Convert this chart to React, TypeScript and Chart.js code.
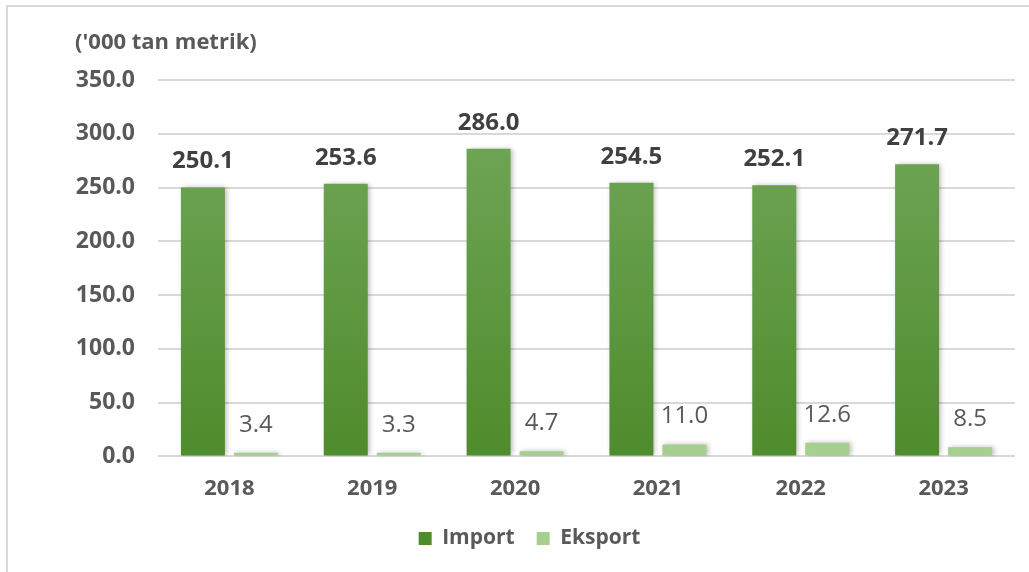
import React, { useEffect, useRef } from "react";
import { Chart, registerables } from "chart.js";

Chart.register(...registerables);

const years = ["2018", "2019", "2020", "2021", "2022", "2023"];
const importValues = [250.1, 253.6, 286.0, 254.5, 252.1, 271.7];
const eksportValues = [3.4, 3.3, 4.7, 11.0, 12.6, 8.5];
const unitLabel = "('000 tan metrik)";
const seriesNames = ["Import", "Eksport"];

const FONT = "'Open Sans', 'Noto Sans', sans-serif";

const shadowPlugin = {
  id: "barShadow",
  beforeDatasetsDraw(chart: any) {
    const ctx = chart.ctx;
    ctx.save();
    ctx.shadowColor = "rgba(0,0,0,0.28)";
    ctx.shadowBlur = 5;
    ctx.shadowOffsetX = 2;
    ctx.shadowOffsetY = 0;
  },
  afterDatasetsDraw(chart: any) {
    chart.ctx.restore();
  },
};

const labelPlugin = {
  id: "valueLabels",
  afterDatasetsDraw(chart: any) {
    const ctx = chart.ctx;
    ctx.save();
    ctx.textAlign = "center";
    ctx.textBaseline = "middle";
    chart.data.datasets.forEach((ds: any, di: number) => {
      const meta = chart.getDatasetMeta(di);
      meta.data.forEach((bar: any, i: number) => {
        const v = ds.data[i] as number;
        if (di === 0) {
          ctx.font = `bold 24px ${FONT}`;
          ctx.fillStyle = "#404040";
          ctx.fillText(v.toFixed(1), bar.x, bar.y - 26);
        } else {
          ctx.font = `24px ${FONT}`;
          ctx.fillStyle = "#595959";
          ctx.fillText(v.toFixed(1), bar.x, bar.y - 28);
        }
      });
    });
    ctx.textAlign = "left";
    ctx.font = `bold 22px ${FONT}`;
    ctx.fillStyle = "#595959";
    ctx.fillText(unitLabel, 75, 43);
    ctx.restore();
  },
};

export default function App() {
  const ref = useRef<HTMLCanvasElement | null>(null);

  useEffect(() => {
    if (!ref.current) return;
    const chart = new Chart(ref.current, {
      type: "bar",
      data: {
        labels: years,
        datasets: [
          {
            label: seriesNames[0],
            data: importValues,
            backgroundColor: (c: any) => {
              const area = c.chart.chartArea;
              if (!area) return "#5a9636";
              const g = c.chart.ctx.createLinearGradient(0, area.top, 0, area.bottom);
              g.addColorStop(0, "#74a95d");
              g.addColorStop(1, "#4f8c2c");
              return g;
            },
            categoryPercentage: 0.742,
            barPercentage: 0.83,
          },
          {
            label: seriesNames[1],
            data: eksportValues,
            backgroundColor: "#a5cf8e",
            categoryPercentage: 0.742,
            barPercentage: 0.83,
          },
        ],
      },
      options: {
        responsive: false,
        animation: false,
        devicePixelRatio: 1,
        layout: { padding: { top: 80, right: 14, left: 44, bottom: 13 } },
        scales: {
          x: {
            afterFit(scale: any) {
              scale.height = 49.6;
            },
            grid: { display: false, drawTicks: false },
            border: { display: false },
            ticks: {
              color: "#595959",
              font: { family: FONT, size: 22, weight: "bold" },
              padding: 19,
            },
          },
          y: {
            min: 0,
            max: 350,
            afterFit(scale: any) {
              scale.width = 114;
            },
            grid: { color: "#d9d9d9", lineWidth: 2, drawTicks: false },
            border: { display: false },
            ticks: {
              stepSize: 50,
              color: "#595959",
              padding: 23,
              font: { family: FONT, size: 23, weight: "bold" },
              callback: (v: any) => Number(v).toFixed(1),
            },
          },
        },
        plugins: {
          legend: {
            position: "bottom",
            labels: {
              boxWidth: 13,
              boxHeight: 13,
              padding: 22,
              color: "#595959",
              font: { family: FONT, size: 21, weight: "bold" },
            },
          },
          tooltip: { enabled: false },
        },
      } as any,
      plugins: [shadowPlugin, labelPlugin],
    });
    return () => chart.destroy();
  }, []);

  return (
    <div
      style={{
        position: "fixed",
        left: 0,
        top: 0,
        width: 1029,
        height: 572,
        overflow: "hidden",
        background: "#ffffff",
      }}
    >
      <div
        style={{
          position: "absolute",
          left: 6,
          top: 5,
          width: 1100,
          height: 700,
          border: "2px solid #d9d9d9",
        }}
      />
      <canvas
        ref={ref}
        width={1029}
        height={572}
        style={{ position: "absolute", left: 0, top: 0, width: 1029, height: 572 }}
      />
    </div>
  );
}
